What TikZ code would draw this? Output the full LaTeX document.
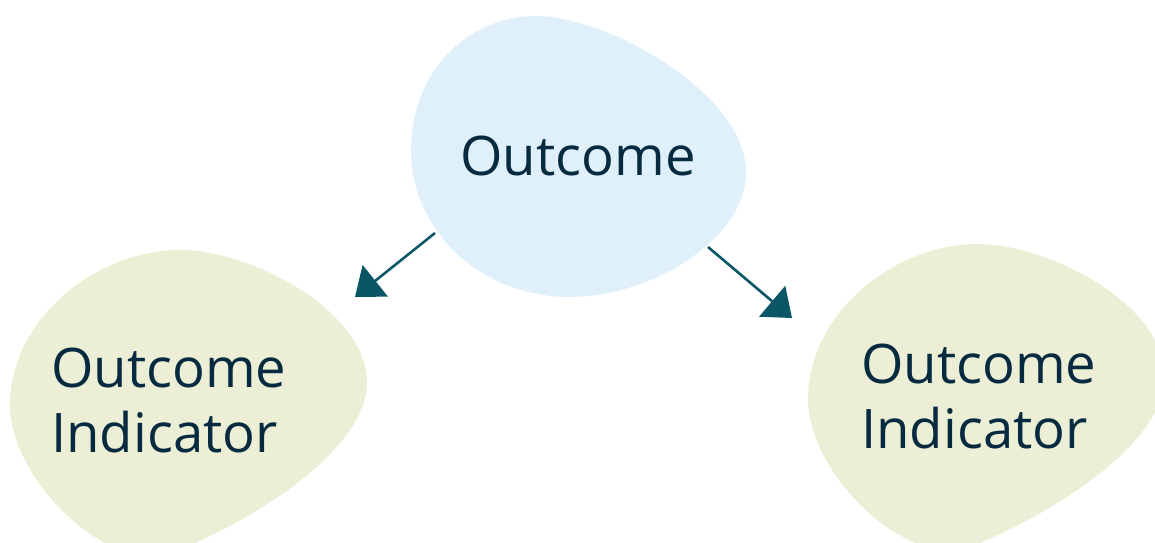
\documentclass[tikz,border=0pt]{standalone}
\usepackage{fontspec}
\setmainfont{Open Sans}
\usetikzlibrary{arrows.meta}
\definecolor{blobblue}{HTML}{DFF0FB}
\definecolor{blobgreen}{HTML}{ECEFD5}
\definecolor{txt}{HTML}{062B40}
\definecolor{arr}{HTML}{0A5566}
\tikzset{
  lbl/.style={text=txt, font=\fontsize{54.5}{65}\selectfont, inner sep=0pt},
  conn/.style={draw=arr, line width=2.6pt, -{Triangle[length=26pt,width=40pt]}},
}
\newcommand{\greenblob}{%
 (180,250) .. controls (250,250) and (367,310) .. (367,383)
 .. controls (367,440) and (280,508) .. (175,552)
 .. controls (110,578) and (10,480) .. (10,405)
 .. controls (10,320) and (95,250) .. (180,250) -- cycle}
\begin{document}
\begin{tikzpicture}[x=1pt,y=-1pt]
\useasboundingbox (0,0) rectangle (1155,542);
\begin{scope}
\clip (0,0) rectangle (1155,542);
% top blob
\fill[blobblue] (535,16) .. controls (610,16) and (746,95) .. (746,172)
  .. controls (746,240) and (650,297) .. (570,297)
  .. controls (480,297) and (411,230) .. (411,150)
  .. controls (411,70) and (470,16) .. (535,16) -- cycle;
% left blob
\fill[blobgreen] \greenblob;
% right blob
\begin{scope}[shift={(798,-6)}]
\fill[blobgreen] \greenblob;
\end{scope}
\end{scope}
\node[lbl, anchor=base] (out) at (578,175) {Outcome};
\node[lbl, anchor=base west, align=left] (ind1) at (51,452) {Outcome\\Indicator};
\node[lbl, anchor=base west, align=left] (ind2) at (861,448) {Outcome\\Indicator};
\coordinate (s1) at (435,233);
\coordinate (e1) at (355,297);
\coordinate (s2) at (708,247);
\coordinate (e2) at (792,318);
\draw[conn] (s1) -- (e1);
\draw[conn] (s2) -- (e2);
\end{tikzpicture}
\end{document}
